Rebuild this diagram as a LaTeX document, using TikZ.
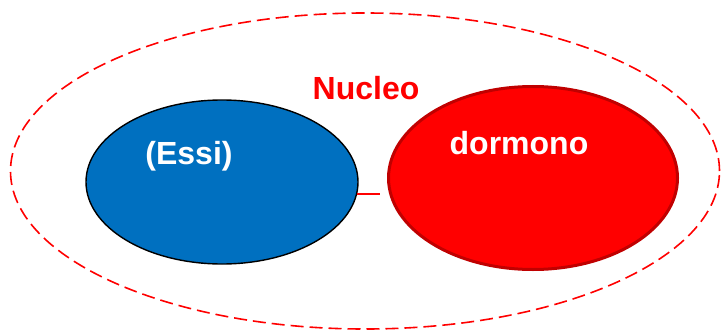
\documentclass[tikz,border=0pt]{standalone}
\usepackage{fontspec}
\setmainfont{Liberation Sans}
\usetikzlibrary{shapes.geometric}
\definecolor{ppblue}{HTML}{0070C0}
\definecolor{ppred}{HTML}{FF0000}
\definecolor{ppdarkred}{HTML}{C00000}
\tikzset{
  blob/.style={ellipse, inner sep=0pt},
  label txt/.style={font=\fontsize{32}{37}\selectfont\bfseries, inner sep=0pt},
}
\begin{document}
\begin{tikzpicture}[x=1pt,y=-1pt]
\useasboundingbox (0,0) rectangle (722,334);
\node[blob, draw=ppred, line width=1.6pt, dash pattern=on 13pt off 6pt,
      minimum width=709pt, minimum height=316pt] (outer) at (365,171) {};
\node[blob, draw=black, line width=1.4pt, fill=ppblue,
      minimum width=272pt, minimum height=164pt] (essi) at (222,182) {};
\node[blob, draw=ppdarkred, line width=3pt, fill=ppred,
      minimum width=289pt, minimum height=183pt] (dorm) at (533,178) {};
\node[label txt, text=ppred] (nucleo) at (366,88) {Nucleo};
\node[label txt, text=white] (essiT) at (189,156) {(Essi)};
\node[label txt, text=white] (dormT) at (519,143) {dormono};
\coordinate (lineEnd) at (380,0);
\draw[ppred, line width=1.5pt] (essi.-5) -- (essi.-5 -| lineEnd);
\end{tikzpicture}
\end{document}
